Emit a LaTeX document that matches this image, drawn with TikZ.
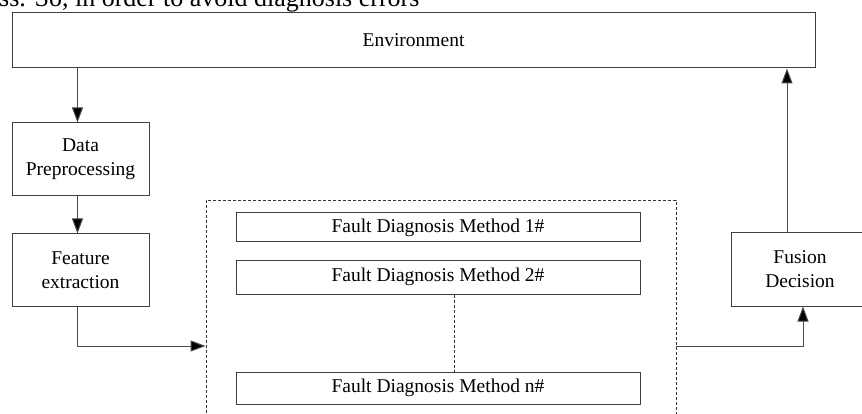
\documentclass[tikz,border=0pt]{standalone}
\usepackage{fontspec}
\setmainfont{Liberation Serif}
\usetikzlibrary{arrows.meta}
\begin{document}
\begin{tikzpicture}[x=1pt,y=-1pt,
  box/.style={draw=black!75, line width=1pt, inner sep=0pt, align=center,
    font=\fontsize{19.5}{24}\selectfont},
  arr/.style={draw=black!70, line width=1pt, -{Triangle[length=15pt,width=11pt,fill=black]}},
  dbox/.style={draw=black!80, line width=0.8pt, dash pattern=on 3pt off 2pt, inner sep=0pt},
  dline/.style={draw=black!80, line width=0.8pt, dash pattern=on 3pt off 2pt}]
\useasboundingbox (0,0) rectangle (862,414);
\node[anchor=base west, inner sep=0pt, font=\fontsize{26}{30}\selectfont] (top) at (-1,6.5) {ss. So, in order to avoid diagnosis errors};
\node[box, minimum width=803pt, minimum height=55pt] (env) at (413.5,40.5) {Environment};
\node[box, minimum width=137pt, minimum height=73pt] (data) at (80.5,159.5) {Data\\Preprocessing};
\node[box, minimum width=137pt, minimum height=72pt] (feat) at (80.5,270) {Feature\\extraction};
\node[dbox, minimum width=470pt, minimum height=220pt] (grp) at (441,310) {};
\node[box, minimum width=404pt, minimum height=29pt] (m1) at (438,227.5) {Fault Diagnosis Method 1\#};
\node[box, minimum width=404pt, minimum height=34pt] (m2) at (438,277) {Fault Diagnosis Method 2\#};
\node[box, minimum width=404pt, minimum height=32pt] (mn) at (438,388) {Fault Diagnosis Method n\#};
\node[box, minimum width=138pt, minimum height=73pt] (fus) at (800,269.5) {Fusion\\Decision};
\draw[arr] ([xshift=-3pt]data.north |- env.south) -- ([xshift=-3pt]data.north);
\draw[arr] ([xshift=-3pt]data.south) -- ([xshift=-3pt]feat.north);
\draw[arr] ([xshift=-3pt]feat.south) |- ([yshift=-36pt]grp.west);
\draw[arr] ([yshift=-36pt]grp.east) -| ([xshift=3pt]fus.south);
\draw[arr] ([xshift=-13pt]fus.north) -- ([xshift=-13pt]fus.north |- env.south);
\draw[dline] ([xshift=16pt]m2.south) -- ([xshift=16pt]mn.north);
\end{tikzpicture}
\end{document}
